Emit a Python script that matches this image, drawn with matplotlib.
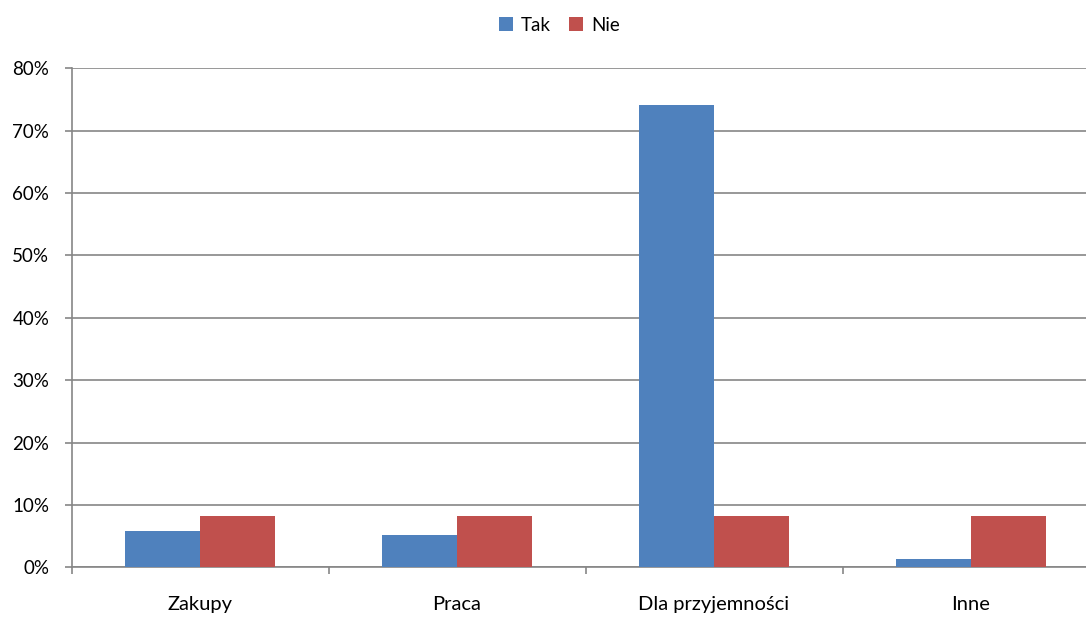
import matplotlib
matplotlib.use("Agg")
import matplotlib.pyplot as plt
import numpy as np
from matplotlib.ticker import FixedLocator, PercentFormatter

categories = ["Zakupy", "Praca", "Dla przyjemności", "Inne"]
tak = [5.8, 5.2, 74.1, 1.4]
nie = [8.3, 8.3, 8.3, 8.3]
yticks = [0, 10, 20, 30, 40, 50, 60, 70, 80]

plt.rcParams['font.family'] = ['Lato', 'DejaVu Sans']

W, H = 1086, 617
fig = plt.figure(figsize=(W / 100, H / 100), dpi=100)
left, right = 71.5, 1099.5
bottom, top = 567.3, 68.3
ax = fig.add_axes([left / W, (H - bottom) / H, (right - left) / W, (bottom - top) / H])

x = np.arange(len(categories))
bw = 0.292
blue = "#4F81BD"
red = "#C0504D"
ax.bar(x - bw / 2, tak, bw, color=blue, label="Tak", zorder=3)
ax.bar(x + bw / 2, nie, bw, color=red, label="Nie", zorder=3)

ax.set_xlim(-0.5, len(categories) - 0.5)
ax.set_ylim(0, 80)
ax.set_yticks(yticks)
ax.yaxis.set_major_formatter(PercentFormatter(decimals=0))
grid_c = "#868686"
ax.yaxis.grid(True, color=grid_c, linewidth=1.2, zorder=0)
ax.set_axisbelow(True)

ax.set_xticks(x)
ax.set_xticklabels(categories)
ax.xaxis.set_minor_locator(FixedLocator(np.arange(-0.5, len(categories), 1.0)))
ax.tick_params(axis='x', which='major', length=0, pad=21, labelsize=14.5, colors='black')
ax.tick_params(axis='x', which='minor', length=5, width=1.2, color=grid_c, direction='out')
ax.tick_params(axis='y', length=5, width=1.2, color=grid_c, pad=11, labelsize=13.5, direction='out')

for s in ['top', 'right']:
    ax.spines[s].set_visible(False)
ax.spines['left'].set_color(grid_c)
ax.spines['left'].set_linewidth(1.2)
ax.spines['bottom'].set_color(grid_c)
ax.spines['bottom'].set_linewidth(1.2)

fig.legend(loc='upper center', bbox_to_anchor=(0.515, 1.0), ncol=2, frameon=False,
           fontsize=13.5, handlelength=0.75, handleheight=0.75, handletextpad=0.4,
           columnspacing=1.0)

fig.savefig("out.png", dpi=100)
